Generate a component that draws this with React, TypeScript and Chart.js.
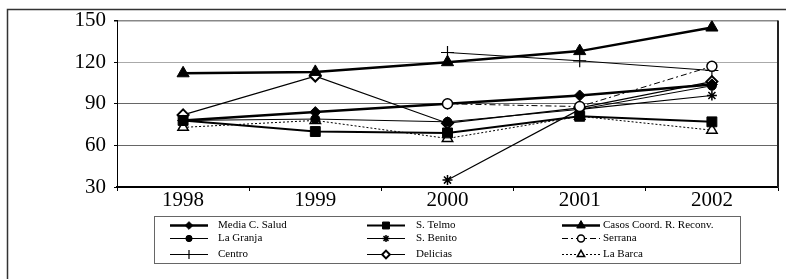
import React, { useEffect, useRef } from 'react';
import { Chart, registerables } from 'chart.js';

Chart.register(...registerables);

const years = ['1998', '1999', '2000', '2001', '2002'];
const yTickValues = [30, 60, 90, 120, 150];

const mediaCSalud = [78, 84, 90, 96, 104];
const sTelmo = [78, 70, 69, 81, 77];
const casosCoord = [112, 113, 120, 128, 145];
const laGranja = [78, 79, 77, 86, 103];
const sBenito = [null, null, 35, 86, 96];
const serrana = [null, null, 90, 88, 117];
const centro = [null, null, 127, 121, 114];
const delicias = [82, 110, 76, 87, 106];
const laBarca = [73, 78, 65, 81, 71];

const seriesNames = [
  'Media C. Salud', 'S. Telmo', 'Casos Coord. R. Reconv.',
  'La Granja', 'S. Benito', 'Serrana',
  'Centro', 'Delicias', 'La Barca',
];

const FONT = '"Liberation Serif", "Times New Roman", serif';

type Style = {
  pointStyle: string; radius: number; fill: string; lineWidth: number; dash: number[]; pointLw: number; order: number;
};

const styles: Style[] = [
  { pointStyle: 'rectRot', radius: 5.5, fill: '#000', lineWidth: 2.5, dash: [], pointLw: 1, order: 0 },
  { pointStyle: 'rect', radius: 7, fill: '#000', lineWidth: 2, dash: [], pointLw: 1, order: 0 },
  { pointStyle: 'triangle', radius: 7, fill: '#000', lineWidth: 2.5, dash: [], pointLw: 1, order: 0 },
  { pointStyle: 'circle', radius: 4.5, fill: '#000', lineWidth: 1, dash: [], pointLw: 1, order: 0 },
  { pointStyle: 'star', radius: 5, fill: '#000', lineWidth: 1.2, dash: [], pointLw: 1.5, order: 0 },
  { pointStyle: 'circle', radius: 5, fill: '#fff', lineWidth: 1, dash: [6, 3, 2, 3], pointLw: 1.5, order: -1 },
  { pointStyle: 'cross', radius: 6.5, fill: '#000', lineWidth: 1, dash: [], pointLw: 1.2, order: 0 },
  { pointStyle: 'rectRot', radius: 5.5, fill: '#fff', lineWidth: 1.2, dash: [], pointLw: 2, order: 0 },
  { pointStyle: 'triangle', radius: 6, fill: '#fff', lineWidth: 1, dash: [2, 2], pointLw: 1.5, order: 0 },
];

const seriesData = [mediaCSalud, sTelmo, casosCoord, laGranja, sBenito, serrana, centro, delicias, laBarca];

function drawMarker(ctx: CanvasRenderingContext2D, s: Style, x: number, y: number, r: number) {
  ctx.save();
  ctx.setLineDash([]);
  ctx.lineWidth = s.pointLw;
  ctx.strokeStyle = '#000';
  ctx.fillStyle = s.fill;
  ctx.beginPath();
  let fillable = true;
  switch (s.pointStyle) {
    case 'circle':
      ctx.arc(x, y, r, 0, Math.PI * 2);
      break;
    case 'rect': {
      const h = r * Math.SQRT1_2;
      ctx.rect(x - h, y - h, 2 * h, 2 * h);
      break;
    }
    case 'rectRot':
      ctx.moveTo(x, y - r); ctx.lineTo(x + r, y); ctx.lineTo(x, y + r); ctx.lineTo(x - r, y); ctx.closePath();
      break;
    case 'triangle':
      ctx.moveTo(x, y - r); ctx.lineTo(x + r * 0.866, y + r * 0.5); ctx.lineTo(x - r * 0.866, y + r * 0.5); ctx.closePath();
      break;
    case 'cross':
      fillable = false;
      ctx.moveTo(x, y - r); ctx.lineTo(x, y + r); ctx.moveTo(x - r, y); ctx.lineTo(x + r, y);
      break;
    case 'star': {
      fillable = false;
      for (let k = 0; k < 4; k++) {
        const a = (k * Math.PI) / 4;
        ctx.moveTo(x - Math.cos(a) * r, y - Math.sin(a) * r);
        ctx.lineTo(x + Math.cos(a) * r, y + Math.sin(a) * r);
      }
      break;
    }
  }
  if (fillable) ctx.fill();
  ctx.stroke();
  ctx.restore();
}

const legendCols = [170, 367, 562];
const legendTextX = [218, 416, 603];
const legendRows = [225, 238, 254];

const framePlugin = {
  id: 'frameAndLegend',
  afterDraw(chart: any) {
    const ctx: CanvasRenderingContext2D = chart.ctx;
    const a = chart.chartArea;
    ctx.save();
    ctx.strokeStyle = '#333';
    ctx.lineWidth = 1.5;
    ctx.beginPath();
    ctx.moveTo(7.5, 279);
    ctx.lineTo(7.5, 9.5);
    ctx.lineTo(786, 9.5);
    ctx.stroke();
    ctx.strokeStyle = '#222';
    ctx.lineWidth = 2;
    ctx.beginPath();
    ctx.moveTo(a.right, a.top);
    ctx.lineTo(a.right, a.bottom);
    ctx.stroke();
    ctx.strokeStyle = '#666';
    ctx.lineWidth = 1;
    ctx.strokeRect(154.5, 216.5, 586, 47);
    ctx.font = `11px ${FONT}`;
    ctx.textBaseline = 'middle';
    ctx.textAlign = 'left';
    chart.data.datasets.forEach((ds: any, i: number) => {
      const s = styles[i];
      const col = i % 3;
      const row = Math.floor(i / 3);
      const x0 = legendCols[col];
      const y = legendRows[row] + 0.5;
      ctx.save();
      ctx.strokeStyle = '#000';
      ctx.lineWidth = s.lineWidth;
      ctx.setLineDash(s.dash);
      ctx.beginPath();
      ctx.moveTo(x0, y);
      ctx.lineTo(x0 + 38, y);
      ctx.stroke();
      ctx.restore();
      drawMarker(ctx, s, x0 + 19, y, s.radius * 0.7);
      ctx.fillStyle = '#000';
      ctx.fillText(ds.label, legendTextX[col], y);
    });
    ctx.restore();
  },
};

export default function App() {
  const ref = useRef<HTMLCanvasElement | null>(null);

  useEffect(() => {
    if (!ref.current) return;
    const chart = new Chart(ref.current, {
      type: 'line',
      data: {
        labels: years,
        datasets: seriesData.map((d, i) => ({
          label: seriesNames[i],
          data: d,
          order: styles[i].order,
          borderColor: '#000',
          borderWidth: styles[i].lineWidth,
          borderDash: styles[i].dash,
          pointStyle: styles[i].pointStyle as any,
          pointRadius: styles[i].radius,
          pointBackgroundColor: styles[i].fill,
          pointBorderColor: '#000',
          pointBorderWidth: styles[i].pointLw,
          tension: 0,
          spanGaps: false,
          fill: false,
        })),
      },
      options: {
        animation: false,
        responsive: false,
        devicePixelRatio: 1,
        layout: { padding: { top: 20, right: 8, left: 0, bottom: 0 } },
        plugins: { legend: { display: false }, tooltip: { enabled: false } },
        scales: {
          x: {
            offset: true,
            grid: { display: true, drawOnChartArea: false, drawTicks: true, tickLength: 4, offset: true, color: '#000' },
            border: { display: true, color: '#000', width: 1.5 },
            ticks: { color: '#000', font: { family: FONT, size: 21 }, padding: -3, maxRotation: 0 },
            afterFit: (scale: any) => { scale.height = 92; },
          },
          y: {
            min: 30,
            max: 150,
            afterBuildTicks: (scale: any) => { scale.ticks = yTickValues.map((v) => ({ value: v })); },
            grid: {
              color: (c: any) => {
                const v = c.tick && c.tick.value;
                if (v === 120) return '#aaa';
                if (v === 150) return '#888';
                if (v === 30) return '#000';
                return '#666';
              },
              lineWidth: (c: any) => (c.tick && c.tick.value === 150 ? 1.5 : 1),
              tickColor: '#000',
              tickLength: 3,
            },
            border: { display: true, color: '#000', width: 1 },
            ticks: { color: '#000', font: { family: FONT, size: 21 }, padding: 8 },
            afterFit: (scale: any) => { scale.width = 117; },
          },
        },
      },
      plugins: [framePlugin],
    });
    return () => chart.destroy();
  }, []);

  return (
    <div style={{ position: 'absolute', left: 0, top: 0, width: 786, height: 279 }}>
      <canvas ref={ref} width={786} height={279} style={{ display: 'block', width: 786, height: 279 }} />
    </div>
  );
}
